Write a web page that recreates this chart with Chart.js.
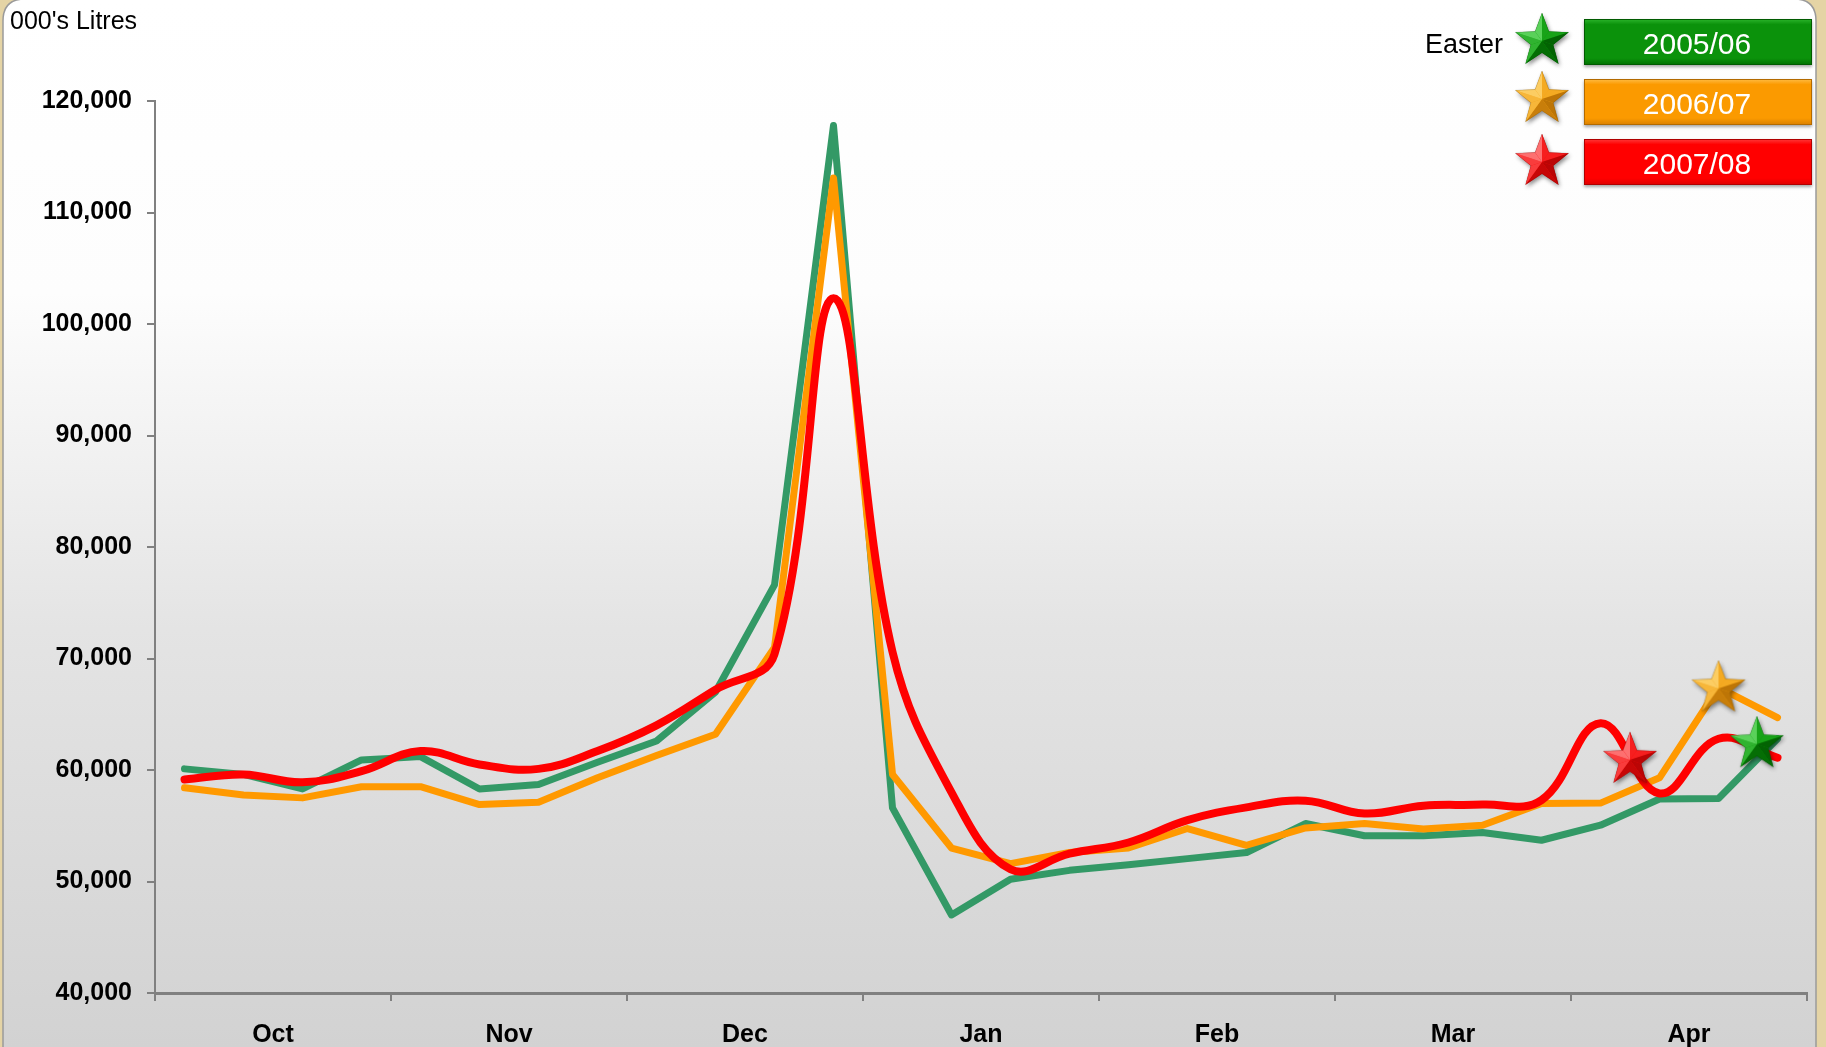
<!DOCTYPE html>
<html>
<head>
<meta charset="utf-8">
<script src="https://cdn.jsdelivr.net/npm/chart.js@4.4.1/dist/chart.umd.min.js"></script>
<style>
  html, body { margin: 0; padding: 0; background: #e5d4a5; }
  #wrap { position: relative; width: 1826px; height: 1047px; }
  canvas { display: block; }
</style>
</head>
<body>
<div id="wrap"><canvas id="c" width="1826" height="1047"></canvas></div>
<script>
// ---------- data ----------
const months = ['Oct', 'Nov', 'Dec', 'Jan', 'Feb', 'Mar', 'Apr'];
const monthCentres = [1.5, 5.5, 9.5, 13.5, 17.5, 21.5, 25.5];   // week positions of month labels
const seriesNames = ['2005/06', '2006/07', '2007/08'];

const sales2005 = [60100, 59600, 58300, 60900, 61200, 58300, 58700, 60700, 62600, 67000,
                   76600, 117800, 56600, 47000, 50200, 51000, 51500, 52050, 52600, 55200,
                   54100, 54100, 54400, 53700, 55050, 57400, 57450, 62800];
const sales2006 = [58400, 57750, 57500, 58500, 58500, 56900, 57100, 59300, 61300, 63200,
                   71000, 113100, 59600, 53000, 51600, 52600, 53000, 54750, 53250, 54800,
                   55200, 54700, 55050, 57000, 57030, 59300, 67400, 64700];
const sales2007 = [59150, 59600, 58900, 59900, 61700, 60500, 60100, 61700, 64000, 67200,
                   70400, 102300, 70600, 58000, 51100, 52500, 53500, 55500, 56650, 57250,
                   56100, 56800, 56900, 57300, 64200, 57900, 62800, 61100];

// Easter markers (week position, value) per season
const easterWeek  = [26.65, 26.0, 24.5];
const easterValue = [62400, 67400, 61000];

const yTicks = [40000, 50000, 60000, 70000, 80000, 90000, 100000, 110000, 120000];

// ---------- styling ----------
const FONT = "'Liberation Sans', Arial, sans-serif";
const colGreen = '#339966', colOrange = '#ff9900', colRed = '#ff0000';

function makeStar(light, base, dark, R) {
  const size = Math.ceil(2 * R + 12);
  const c = document.createElement('canvas');
  c.width = size; c.height = size;
  const ctx = c.getContext('2d');
  const cx = size / 2, cy = size / 2 + 1;
  const r = R * 0.42;
  const pts = [];
  for (let k = 0; k < 10; k++) {
    const a = -Math.PI / 2 + k * Math.PI / 5;
    const rad = k % 2 === 0 ? R : r;
    pts.push([cx + rad * Math.cos(a), cy + rad * Math.sin(a)]);
  }
  ctx.save();
  ctx.shadowColor = 'rgba(0,0,0,0.45)';
  ctx.shadowBlur = 4; ctx.shadowOffsetX = 1.5; ctx.shadowOffsetY = 2.5;
  ctx.beginPath();
  pts.forEach((p, i) => i ? ctx.lineTo(p[0], p[1]) : ctx.moveTo(p[0], p[1]));
  ctx.closePath(); ctx.fillStyle = base; ctx.fill();
  ctx.restore();
  const hex = h => [parseInt(h.substr(1, 2), 16), parseInt(h.substr(3, 2), 16), parseInt(h.substr(5, 2), 16)];
  const L = hex(light), B = hex(base), D = hex(dark);
  const lightAng = -Math.PI * 0.75;
  for (let k = 0; k < 10; k++) {
    const p1 = pts[k], p2 = pts[(k + 1) % 10];
    const inner = k % 2 === 0 ? p2 : p1;
    const nAng = Math.atan2(inner[1] - cy, inner[0] - cx);
    const t = 0.5 + 0.5 * Math.cos(nAng - lightAng);
    let col;
    if (t > 0.5) { const u = (t - 0.5) * 2; col = B.map((v, j) => Math.round(v + (L[j] - v) * u * 0.8)); }
    else { const u = (0.5 - t) * 2; col = B.map((v, j) => Math.round(v + (D[j] - v) * u * 0.8)); }
    ctx.beginPath();
    ctx.moveTo(cx, cy); ctx.lineTo(p1[0], p1[1]); ctx.lineTo(p2[0], p2[1]); ctx.closePath();
    ctx.fillStyle = 'rgb(' + col.join(',') + ')';
    ctx.fill();
  }
  ctx.beginPath();
  pts.forEach((p, i) => i ? ctx.lineTo(p[0], p[1]) : ctx.moveTo(p[0], p[1]));
  ctx.closePath(); ctx.strokeStyle = 'rgba(0,0,0,0.18)'; ctx.lineWidth = 0.8; ctx.stroke();
  return c;
}

const starGreen  = makeStar('#6fe06f', '#0c9a0c', '#004d00', 28);
const starOrange = makeStar('#ffd877', '#f2a316', '#a86200', 28);
const starRed    = makeStar('#ff8a8a', '#f51010', '#a30000', 28);
const stars = [starGreen, starOrange, starRed];

const toPts = arr => arr.map((v, i) => ({ x: i, y: v }));

const bgPlugin = {
  id: 'bg',
  beforeDraw(chart) {
    const ctx = chart.ctx;
    const W = chart.width, H = chart.height;
    ctx.save();
    ctx.fillStyle = '#e5d4a5';
    ctx.fillRect(0, 0, W, H);
    const g = ctx.createLinearGradient(0, 0, 0, H);
    g.addColorStop(0, '#ffffff');
    g.addColorStop(0.28, '#fdfdfd');
    g.addColorStop(0.6, '#e4e4e4');
    g.addColorStop(1, '#d2d2d2');
    const x0 = 3, x1 = 1816, y0 = -1, y1 = H + 30, rr = 22;
    ctx.beginPath();
    ctx.moveTo(x0 + rr, y0);
    ctx.lineTo(x1 - rr, y0);
    ctx.quadraticCurveTo(x1, y0, x1, y0 + rr);
    ctx.lineTo(x1, y1);
    ctx.lineTo(x0, y1);
    ctx.lineTo(x0, y0 + rr);
    ctx.quadraticCurveTo(x0, y0, x0 + rr, y0);
    ctx.closePath();
    ctx.fillStyle = g;
    ctx.fill();
    ctx.strokeStyle = '#9a9a9a';
    ctx.lineWidth = 1.5;
    ctx.stroke();
    ctx.restore();
  },
  afterDraw(chart) {
    const ctx = chart.ctx;
    ctx.save();
    ctx.fillStyle = '#000';
    ctx.font = '25px ' + FONT;
    ctx.textAlign = 'left';
    ctx.textBaseline = 'alphabetic';
    ctx.fillText("000's Litres", 10, 29);
    ctx.font = '27px ' + FONT;
    ctx.textAlign = 'right';
    ctx.textBaseline = 'middle';
    ctx.fillText('Easter', 1503, 46);
    const boxes = [
      { y: 19, top: '#2cb52c', mid: '#0b920b', bot: '#007000', edge: '#005a00' },
      { y: 79, top: '#ffbd45', mid: '#fb9a00', bot: '#d97f00', edge: '#b36a00' },
      { y: 139, top: '#ff3a3a', mid: '#ff0000', bot: '#de0000', edge: '#b00000' }
    ];
    boxes.forEach((b, i) => {
      const x = 1584, w = 228, h = 46;
      ctx.save();
      ctx.shadowColor = 'rgba(0,0,0,0.35)';
      ctx.shadowBlur = 3; ctx.shadowOffsetY = 2;
      const g = ctx.createLinearGradient(0, b.y, 0, b.y + h);
      g.addColorStop(0, b.top);
      g.addColorStop(0.12, b.mid);
      g.addColorStop(0.85, b.mid);
      g.addColorStop(1, b.bot);
      ctx.fillStyle = g;
      ctx.fillRect(x, b.y, w, h);
      ctx.restore();
      ctx.strokeStyle = b.edge; ctx.lineWidth = 1;
      ctx.strokeRect(x + 0.5, b.y + 0.5, w - 1, h - 1);
      ctx.fillStyle = '#ffffff';
      ctx.font = '30px ' + FONT;
      ctx.textAlign = 'center';
      ctx.textBaseline = 'middle';
      ctx.fillText(seriesNames[i], x + w / 2 - 1, b.y + h / 2 + 4);
      const s = stars[i];
      ctx.drawImage(s, 1542 - s.width / 2, [40, 98, 161][i] - s.height / 2);
    });
    ctx.restore();
  }
};

const axisGrey = '#808080';

new Chart(document.getElementById('c'), {
  type: 'line',
  data: {
    datasets: [
      { label: seriesNames[0], data: toPts(sales2005), borderColor: colGreen, borderWidth: 7,
        pointRadius: 0, tension: 0, order: 3, borderCapStyle: 'round', borderJoinStyle: 'round' },
      { label: seriesNames[1], data: toPts(sales2006), borderColor: colOrange, borderWidth: 7,
        pointRadius: 0, tension: 0, order: 2, borderCapStyle: 'round', borderJoinStyle: 'round' },
      { label: seriesNames[2], data: toPts(sales2007), borderColor: colRed, borderWidth: 8,
        pointRadius: 0, tension: 0.4, order: 1, borderCapStyle: 'round', borderJoinStyle: 'round' },
      { label: 'Easter', data: easterWeek.map((w, i) => ({ x: w, y: easterValue[i] })),
        showLine: false, pointStyle: stars, pointRadius: 28, order: 0,
        borderWidth: 0, backgroundColor: 'transparent' }
    ]
  },
  options: {
    responsive: false,
    animation: false,
    devicePixelRatio: 1,
    layout: { autoPadding: false, padding: { left: 0, right: 19, top: 101, bottom: 0 } },
    plugins: { legend: { display: false }, tooltip: { enabled: false } },
    scales: {
      x: {
        type: 'linear', min: -0.5, max: 27.5, bounds: 'data',
        afterBuildTicks: s => { s.ticks = monthCentres.map(v => ({ value: v })); },
        afterFit: s => { s.height = 54; },
        ticks: {
          callback: (v, i) => months[i],
          font: { family: FONT, size: 25, weight: 'bold' },
          color: '#000', padding: 19, maxRotation: 0, autoSkip: false
        },
        grid: { offset: true, drawOnChartArea: false, tickLength: 8, color: axisGrey, lineWidth: 2 },
        border: { color: axisGrey, width: 3 }
      },
      y: {
        min: 40000, max: 120000,
        afterBuildTicks: s => { s.ticks = yTicks.map(v => ({ value: v })); },
        afterFit: s => { s.width = 155; },
        ticks: {
          callback: v => v.toLocaleString('en-US'),
          font: { family: FONT, size: 25, weight: 'bold' },
          color: '#000', padding: 15
        },
        grid: { drawOnChartArea: false, tickLength: 8, color: axisGrey, lineWidth: 2 },
        border: { color: axisGrey, width: 2 }
      }
    }
  },
  plugins: [bgPlugin]
});
</script>
</body>
</html>
